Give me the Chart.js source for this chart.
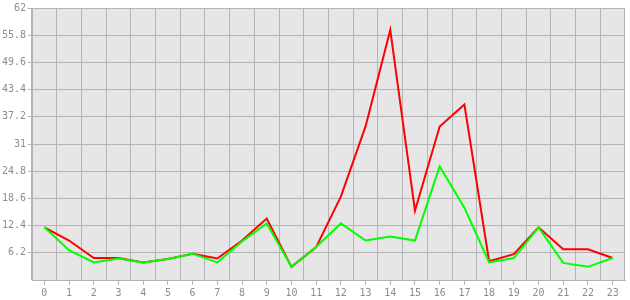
<!DOCTYPE html>
<html>
<head>
<meta charset="utf-8">
<script src="https://cdn.jsdelivr.net/npm/chart.js@4"></script>
<style>
html,body{margin:0;padding:0;background:#fff;}
#wrap{width:630px;height:300px;position:relative;}
</style>
</head>
<body>
<div id="wrap"><canvas id="c" width="630" height="300"></canvas></div>
<script>
const categories = ['0','1','2','3','4','5','6','7','8','9','10','11','12','13','14','15','16','17','18','19','20','21','22','23'];
const redValues   = [12, 9.0, 5.0, 5.0, 4.0, 4.8, 6.0, 4.9, 9.0, 14.0, 3.0, 7.5, 19.0, 35.0, 57.0, 15.8, 35.0, 40.0, 4.3, 5.9, 12.0, 7.0, 7.0, 5.0];
const greenValues = [12, 6.8, 4.0, 4.9, 4.0, 4.8, 6.0, 4.0, 8.8, 12.9, 3.0, 7.5, 12.9, 9.0, 9.9, 9.0, 25.9, 16.5, 4.0, 5.0, 12.0, 3.9, 3.0, 5.0];
const yTickValues = [6.2, 12.4, 18.6, 24.8, 31, 37.2, 43.4, 49.6, 55.8, 62];

const GRID = '#b4b4b4';
const TXT = '#8c8c8c';
const FONT = {family: '"DejaVu Sans Mono", monospace', size: 10};

const bgPlugin = {
  id: 'plotBg',
  beforeDraw(chart) {
    const a = chart.chartArea, ctx = chart.ctx;
    ctx.save();
    ctx.fillStyle = '#e6e6e6';
    ctx.fillRect(a.left, a.top, a.right - a.left, a.bottom - a.top);
    ctx.restore();
  }
};

new Chart(document.getElementById('c'), {
  type: 'line',
  data: {
    labels: categories,
    datasets: [
      {data: greenValues, borderColor: '#00ff00', backgroundColor: '#00ff00', borderWidth: 2, pointRadius: 0, tension: 0, fill: false},
      {data: redValues, borderColor: '#ff0000', backgroundColor: '#ff0000', borderWidth: 2, pointRadius: 0, tension: 0, fill: false}
    ]
  },
  options: {
    responsive: false,
    animation: false,
    events: [],
    layout: {padding: {top: 5, right: 5, left: 0, bottom: 0}},
    plugins: {legend: {display: false}, tooltip: {enabled: false}},
    scales: {
      x: {
        type: 'category',
        position: 'bottom',
        offset: true,
        grid: {offset: false, drawOnChartArea: false, color: GRID, tickLength: 5, lineWidth: 1},
        border: {color: GRID, width: 1},
        ticks: {color: TXT, font: FONT, padding: 2, maxRotation: 0, autoSkip: false},
        afterFit(s) { s.height = 20; }
      },
      x2: {
        type: 'category',
        position: 'top',
        offset: true,
        grid: {offset: true, drawTicks: false, color: GRID, lineWidth: 1},
        border: {display: false},
        ticks: {display: false},
        afterFit(s) { s.height = 0; }
      },
      y: {
        min: 0,
        max: 62,
        afterBuildTicks(s) { s.ticks = yTickValues.map(v => ({value: v})); },
        grid: {color: GRID, tickLength: 4, lineWidth: 1},
        border: {color: GRID, width: 1},
        ticks: {color: TXT, font: FONT, padding: 2, callback: (v) => String(v)},
        afterFit(s) { s.width = 32; }
      }
    }
  },
  plugins: [bgPlugin]
});
</script>
</body>
</html>
